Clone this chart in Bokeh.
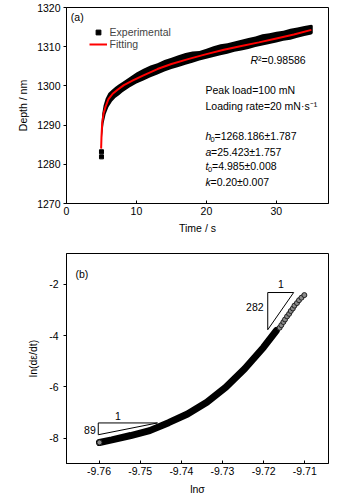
from bokeh.plotting import figure
from bokeh.layouts import column
from bokeh.models import FixedTicker, Legend, LegendItem, Range1d
from bokeh.core.properties import value
from bokeh.embed import file_html
from bokeh.resources import INLINE

FONT = "Liberation Sans"
FS = "10.5px"

# ---------------- data: panel (a) ----------------
time_fit = [4.95, 5.0, 5.1, 5.3, 5.6, 6.0, 6.6, 7.3, 8.2, 9.5, 11.0, 13.0, 15.0,
            17.5, 20.0, 22.5, 25.0, 27.5, 30.0, 32.5, 35.0]
depth_fit = [1284.0, 1287.0, 1290.5, 1293.0, 1294.8, 1296.6, 1298.0, 1299.0, 1300.2,
             1301.4, 1302.7, 1304.3, 1305.6, 1306.9, 1308.1, 1309.2, 1310.2, 1311.1,
             1312.1, 1313.1, 1314.3]

time_band = [4.95, 5.0, 5.1, 5.3, 5.6, 6.0, 6.5, 7.0, 7.5, 8, 9, 10, 11, 12, 13, 14, 15,
             16, 17, 18, 19, 20, 21, 22, 23, 24, 25, 26, 27, 28, 29, 30, 31, 32, 33, 34,
             35, 35.2]
depth_upper = [1286.5, 1290.0, 1292.8, 1295.0, 1296.8, 1298.2, 1299.0, 1299.8, 1300.4,
               1301.0, 1302.2, 1303.4, 1304.4, 1305.2, 1305.8, 1306.6, 1307.2, 1307.8,
               1308.4, 1308.8, 1308.9, 1309.5, 1310.1, 1310.6, 1310.9, 1311.3, 1311.8,
               1312.2, 1312.6, 1313.2, 1313.4, 1313.8, 1314.1, 1314.6, 1314.9, 1315.3,
               1315.6, 1315.4]
depth_lower = [1284.0, 1285.0, 1287.5, 1290.5, 1292.8, 1294.6, 1296.0, 1297.0, 1297.6,
               1298.4, 1299.6, 1300.6, 1301.4, 1302.2, 1302.9, 1303.7, 1304.3, 1304.8,
               1305.4, 1305.9, 1306.5, 1306.9, 1307.4, 1307.8, 1308.2, 1308.7, 1309.0,
               1309.4, 1309.9, 1310.3, 1310.7, 1311.1, 1311.5, 1311.8, 1312.3, 1312.7,
               1313.1, 1313.4]
time_pts = [5.0, 5.0]
depth_pts = [1283.2, 1281.9]

x_ticks_a = [0, 10, 20, 30]
y_ticks_a = [1270, 1280, 1290, 1300, 1310, 1320]

# ---------------- data: panel (b) ----------------
ln_sigma = [-9.7599, -9.7569, -9.7523, -9.7477, -9.7431, -9.7385, -9.7338, -9.7292,
            -9.7246, -9.7200, -9.7169, -9.7161, -9.7157, -9.7152, -9.7148, -9.7143,
            -9.7138, -9.7134, -9.7129, -9.7125, -9.7119, -9.7114, -9.7108, -9.7101]
ln_rate = [-8.16, -8.06, -7.89, -7.70, -7.39, -7.05, -6.59, -6.01, -5.29, -4.45, -3.80,
           -3.69, -3.59, -3.47, -3.37, -3.25, -3.15, -3.04, -2.94, -2.83, -2.73, -2.62,
           -2.52, -2.42]
n_dense = 11  # points forming the dense band

tri_hi_x = [-9.7190, -9.7127, -9.7190, -9.7190]
tri_hi_y = [-2.32, -2.32, -3.77, -2.32]
tri_lo_x = [-9.7602, -9.7458, -9.7602, -9.7602]
tri_lo_y = [-7.40, -7.40, -7.86, -7.40]

x_ticks_b = [-9.76, -9.75, -9.74, -9.73, -9.72, -9.71]
y_ticks_b = [-8, -6, -4, -2]


def style(p, x_in):
    p.outline_line_color = "black"
    p.outline_line_width = 1
    p.xgrid.visible = False
    p.ygrid.visible = False
    p.background_fill_color = "white"
    p.border_fill_color = "white"
    for ax in (p.xaxis[0], p.yaxis[0]):
        ax.axis_line_color = "black"
        ax.major_tick_line_color = "black"
        ax.minor_tick_line_color = None
        ax.major_label_text_font = FONT
        ax.major_label_text_font_size = FS
        ax.major_label_text_color = "black"
        ax.axis_label_text_font = FONT
        ax.axis_label_text_font_size = FS
        ax.axis_label_text_font_style = "normal"
        ax.axis_label_text_color = "black"
    p.xaxis.major_tick_in = 3 if x_in else 0
    p.xaxis.major_tick_out = 0 if x_in else 3
    p.yaxis.major_tick_in = 0
    p.yaxis.major_tick_out = 3


def txt(p, x, y, s, style_="normal", size=FS, align="left", xo=0):
    p.text(x=[x], y=[y], text=[s], text_font=value(FONT), text_font_size=size,
           text_font_style=style_, text_baseline="middle", text_align=align,
           text_color="black", x_offset=xo)


# ---------------- panel (a) ----------------
p1 = figure(width=354, height=240, x_range=Range1d(0, 37.45), y_range=Range1d(1270, 1320),
            output_backend="svg", toolbar_location=None,
            min_border_left=66, min_border_right=26, min_border_top=7, min_border_bottom=37,
            x_axis_label="Time / s", y_axis_label="Depth / nm")
style(p1, True)
p1.xaxis.ticker = FixedTicker(ticks=x_ticks_a)
p1.yaxis.ticker = FixedTicker(ticks=y_ticks_a)
p1.xaxis.major_label_standoff = 3
p1.xaxis.axis_label_standoff = 4
p1.yaxis.major_label_standoff = 3
p1.yaxis.axis_label_standoff = 5

p1.varea(x=time_band, y1=depth_lower, y2=depth_upper, fill_color="black")
sq = p1.scatter(x=time_pts, y=depth_pts, marker="square", size=4, fill_color="black",
                line_color="black")
fit = p1.line(x=time_fit, y=depth_fit, line_color="#ff0000", line_width=2)

leg = Legend(items=[LegendItem(label="Experimental", renderers=[sq]),
                    LegendItem(label="Fitting", renderers=[fit])],
             location=(22.6, 153))
leg.border_line_color = None
leg.background_fill_alpha = 0
leg.padding = 0
leg.margin = 0
leg.spacing = 0
leg.glyph_width = 18
leg.glyph_height = 12
leg.label_height = 12
leg.label_standoff = 3
leg.label_text_font = FONT
leg.label_text_font_size = FS
p1.add_layout(leg)

txt(p1, 0.62, 1317.5, "(a)")
txt(p1, 26.3, 1306.5, "R", "italic")
txt(p1, 26.3, 1306.5, "\u00b2=0.98586", xo=7.6)
txt(p1, 19.87, 1298.9, "Peak load=100 mN")
txt(p1, 19.87, 1295.0, "Loading rate=20 mN\u00b7s\u207b\u00b9")
txt(p1, 19.87, 1287.2, "h", "italic")
txt(p1, 19.87, 1286.3, "0", size="7.5px", xo=5.0)
txt(p1, 19.87, 1287.2, "=1268.186\u00b11.787", xo=9.0)
txt(p1, 19.87, 1283.1, "a", "italic")
txt(p1, 19.87, 1283.1, "=25.423\u00b11.757", xo=5.6)
txt(p1, 19.87, 1279.6, "t", "italic")
txt(p1, 19.87, 1278.7, "0", size="7.5px", xo=2.6)
txt(p1, 19.87, 1279.6, "=4.985\u00b10.008", xo=6.6)
txt(p1, 19.87, 1275.5, "k", "italic")
txt(p1, 19.87, 1275.5, "=0.20\u00b10.007", xo=5.0)

# ---------------- panel (b) ----------------
p2 = figure(width=354, height=262, x_range=Range1d(-9.76792, -9.70423),
            y_range=Range1d(-8.98, -0.8),
            output_backend="svg", toolbar_location=None,
            min_border_left=52, min_border_right=26, min_border_top=13, min_border_bottom=39,
            x_axis_label="ln\u03c3", y_axis_label="ln(d\u03b5/dt)")
style(p2, True)
p2.xaxis.ticker = FixedTicker(ticks=x_ticks_b)
p2.yaxis.ticker = FixedTicker(ticks=y_ticks_b)
p2.xaxis.major_label_overrides = {t: "%.2f" % t for t in x_ticks_b}
p2.yaxis.major_label_overrides = {t: "%d" % t for t in y_ticks_b}
p2.xaxis.major_label_standoff = 3
p2.xaxis.axis_label_standoff = 5
p2.yaxis.major_label_standoff = 5
p2.yaxis.axis_label_standoff = 7

p2.line(x=ln_sigma[:n_dense], y=ln_rate[:n_dense], line_color="black", line_width=7,
        line_cap="round")
p2.line(x=ln_sigma[n_dense - 1:], y=ln_rate[n_dense - 1:], line_color="black",
        line_width=4, line_cap="round")
p2.scatter(x=ln_sigma[n_dense:], y=ln_rate[n_dense:], marker="circle", size=5,
           fill_color="#8a8a8a", line_color="#222222", line_width=1)
p2.scatter(x=ln_sigma[:1], y=ln_rate[:1], marker="circle", size=5,
           fill_color="#8a8a8a", line_color="#222222", line_width=1)

p2.line(x=tri_hi_x, y=tri_hi_y, line_color="black", line_width=1)
p2.line(x=tri_lo_x, y=tri_lo_y, line_color="black", line_width=1)

txt(p2, -9.76576, -1.58, "(b)")
txt(p2, -9.7158, -2.0, "1", align="center")
txt(p2, -9.7200, -2.89, "282", align="right")
txt(p2, -9.7554, -7.12, "1", align="center")
txt(p2, -9.7608, -7.66, "89", align="right")

layout = column(p1, p2, spacing=0)
open("out.html", "w").write(file_html(layout, INLINE))
